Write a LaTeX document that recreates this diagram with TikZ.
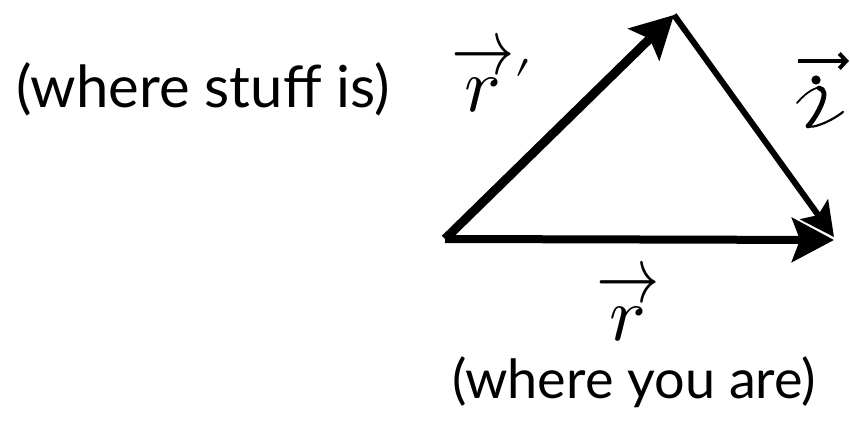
\documentclass[tikz,border=0pt]{standalone}
\usepackage{fontspec}
\usepackage{unicode-math}
\setmainfont{Lato}
\setmathfont{Latin Modern Math}
\usetikzlibrary{arrows.meta}
\newcommand{\vecarrow}{\raisebox{-9pt}[\height][\depth]{\scalebox{0.82}[1.05]{$\rightarrow$}}}
\newcommand{\lowprime}{{}^{\raisebox{-11pt}{$\scriptstyle\prime$}}}
\begin{document}
\begin{tikzpicture}[x=1pt,y=-1pt,
  vecline/.style={line width=#1, line cap=butt},
  bigtip/.style={-{Stealth[length=42pt,width=44pt,inset=8pt]}},
  smalltip/.style={-{Stealth[length=34pt,width=34pt,inset=7pt]}},
  label/.style={inner sep=0pt, anchor=base, font=\fontsize{#1}{62}\selectfont},
  mlabel/.style={inner sep=0pt, anchor=base west, font=\fontsize{56}{62}\selectfont},
  glyph/.style={line cap=round, line join=round}]
\useasboundingbox (0,0) rectangle (850,427);
\coordinate (O) at (445,239);
\coordinate (A) at (674,15);
\coordinate (B) at (834,237);
\coordinate (B2) at (834,240);
\draw[vecline=8pt, bigtip] (O) -- (B2);
\draw[vecline=9pt, bigtip] (O) -- (A);
\draw[vecline=6pt, smalltip] (A) -- (B);
\node[label=58] (stuff) at (203,108) {(where stuff is)};
\node[label=54] (you) at (634,398) {(where you are)};
\node[mlabel] (rp) at (451,112) {\scalebox{1.375}{$\overset{\vecarrow}{r}\lowprime$}};
\node[mlabel] (r) at (596,340) {\scalebox{1.375}{$\overset{\vecarrow}{r}$}};
% script r (Griffiths' separation vector)
\coordinate (sa1) at (798,61);
\coordinate (sa2) at (849,61);
\draw[line width=4pt, -{Straight Barb[length=7pt,width=15pt]}] (sa1) -- (sa2);
\fill (816,80) circle (4.6pt);
\draw[glyph, line width=1.8pt] (797,103) .. controls (804,95) and (811,89) .. (820,87);
\draw[glyph, line width=4.8pt] (819,88) .. controls (825,89) and (825,95) .. (822,103)
  .. controls (818,113) and (812,122) .. (808,126);
\draw[glyph, line width=2.2pt] (808,126) .. controls (812,129) and (830,122) .. (843,112);
\end{tikzpicture}
\end{document}
